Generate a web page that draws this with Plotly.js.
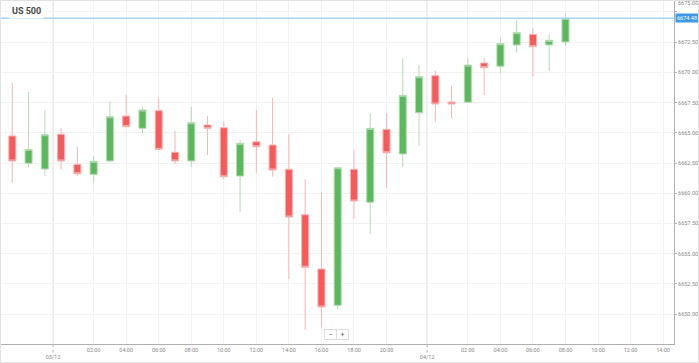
<!DOCTYPE html>
<html>
<head>
<meta charset="utf-8">
<script src="https://cdn.plot.ly/plotly-3.0.1.min.js"></script>
<style>
html,body{margin:0;padding:0;background:#fff;}
#wrap{width:697px;height:361px;border:1px solid #e2e2e2;}
#chart{width:697px;height:361px;}
</style>
</head>
<body>
<div id="wrap"><div id="chart"></div></div>
<script>
// Hourly candles, US 500 (02/12 20:00 -> 04/12 08:00, 23:00 break skipped)
const openP  = [6664.74,6662.48,6662.00,6664.88,6662.39,6661.56,6662.67,6666.39,6665.37,6666.83,
                6663.39,6662.67,6665.65,6665.42,6661.42,6664.26,6663.99,6661.98,6658.22,6653.73,
                6650.72,6661.98,6659.25,6665.29,6663.25,6666.66,6669.73,6667.55,6667.53,6670.78,
                6670.51,6672.27,6673.15,6672.27,6672.52];
const highP  = [6669.15,6668.38,6666.89,6665.37,6663.85,6663.10,6667.61,6668.15,6667.14,6667.91,
                6665.15,6667.14,6666.39,6665.92,6664.40,6666.89,6667.91,6664.90,6661.15,6660.12,
                6662.15,6663.63,6666.61,6666.61,6671.17,6670.61,6670.12,6668.87,6671.17,6671.17,
                6672.91,6674.34,6673.65,6673.15,6674.89];
const lowP   = [6660.87,6662.14,6661.42,6661.92,6661.42,6660.90,6662.60,6665.45,6664.96,6663.58,
                6662.39,6662.19,6663.16,6661.18,6658.42,6661.65,6661.37,6652.90,6648.68,6648.92,
                6650.39,6657.86,6656.62,6660.41,6662.19,6663.91,6665.92,6666.20,6667.48,6668.13,
                6669.93,6671.66,6669.64,6670.14,6672.19];
const closeP = [6662.67,6663.63,6664.84,6662.67,6661.61,6662.64,6666.33,6665.51,6666.89,6663.63,
                6662.67,6665.84,6665.37,6661.37,6664.13,6663.85,6661.92,6658.03,6653.87,6650.58,
                6662.11,6659.35,6665.37,6663.35,6668.10,6669.64,6667.38,6667.38,6670.61,6670.39,
                6672.38,6673.29,6672.13,6672.66,6674.48];
const slots = openP.map((_, i) => i);

// x-axis ticks (slot positions) and labels
const hourTickVals = [5,7,9,11,13,15,17,19,21,23, 28,30,32,34,36,38,40];
const hourTickText = ["02:00","04:00","06:00","08:00","10:00","12:00","14:00","16:00","18:00","20:00",
                      "02:00","04:00","06:00","08:00","10:00","12:00","14:00"];
const dayTickVals = [2.5, 25.5];
const dayTickText = ["03/12", "04/12"];

// y-axis ticks
const yTickVals = [6650,6652.5,6655,6657.5,6660,6662.5,6665,6667.5,6670,6672.5,6675];
const yTickText = ["6650.00","6652.50","6655.00","6657.50","6660.00","6662.50","6665.00","6667.50","6670.00","6672.50",""];
const topLabel = "6675.00";
const title = "US 500";

const lastClose = closeP[closeP.length - 1];

const trace = {
  type: 'candlestick',
  x: slots, open: openP, high: highP, low: lowP, close: closeP,
  increasing: {line: {color: '#b3dbb3', width: 1}, fillcolor: '#5cb85c'},
  decreasing: {line: {color: '#f8b4b4', width: 1}, fillcolor: '#f55b5b'},
  whiskerwidth: 0,
  hoverinfo: 'skip'
};

const shapes = [];
dayTickVals.forEach(v => {
  shapes.push({type:'line', xref:'x', yref:'paper', x0:v, x1:v, y0:0, y1:1,
               line:{color:'#e6e6e6', width:1.6}, layer:'below'});
  shapes.push({type:'line', xref:'x', yref:'paper', x0:v, x1:v, y0:0, y1:-0.025,
               line:{color:'#b5b5b5', width:1, dash:'dot'}});
});
shapes.push({type:'line', xref:'paper', yref:'y', x0:0, x1:1, y0:lastClose, y1:lastClose,
             line:{color:'#a9d3f3', width:1.5}});

const annotations = [
  {xref:'paper', yref:'paper', x:0.0125, y:0.971, xanchor:'left', yanchor:'middle',
   text:'<b>'+title+'</b>', showarrow:false, bgcolor:'#ffffff', borderpad:2,
   font:{size:9, color:'#444', family:'Roboto, sans-serif'}},
  {xref:'paper', yref:'y', x:1, y:lastClose, xanchor:'left', yanchor:'middle', xshift:1,
   text:lastClose.toFixed(2), showarrow:false, bgcolor:'#3d98e6', borderpad:1,
   font:{size:5.5, color:'#ffffff', family:'Roboto, sans-serif'}},
  {xref:'paper', yref:'paper', x:1, y:0.994, xanchor:'left', yanchor:'middle', xshift:2,
   text:topLabel, showarrow:false,
   font:{size:5.5, color:'#888', family:'Roboto, sans-serif'}},
  {xref:'paper', yref:'paper', x:0.490, y:0.029, xanchor:'center', yanchor:'middle',
   text:'−', showarrow:false, bgcolor:'#fff', bordercolor:'#dcdcdc', borderwidth:1, width:9, height:7,
   font:{size:7, color:'#555', family:'Roboto, sans-serif'}},
  {xref:'paper', yref:'paper', x:0.508, y:0.029, xanchor:'center', yanchor:'middle',
   text:'+', showarrow:false, bgcolor:'#fff', bordercolor:'#dcdcdc', borderwidth:1, width:9, height:7,
   font:{size:7, color:'#555', family:'Roboto, sans-serif'}}
];

const layout = {
  width: 697, height: 361,
  margin: {l:0, r:24, t:0, b:18, pad:0},
  paper_bgcolor:'#fff', plot_bgcolor:'#fff',
  showlegend:false,
  boxgap: 0.38,
  font:{family:'Roboto, sans-serif', size:5.5, color:'#888'},
  xaxis: {
    type:'linear', range:[-0.6945, 40.67], fixedrange:true,
    rangeslider:{visible:false},
    tickmode:'array',
    tickvals: hourTickVals.concat(dayTickVals),
    ticktext: hourTickText.concat(dayTickText.map(t => '<br>' + t)),
    showgrid:true, gridcolor:'#f2f2f2', gridwidth:1,
    zeroline:false, showline:true, linecolor:'#b0b0b0', linewidth:1,
    ticks:'', tickfont:{size:5.5, color:'#888'}
  },
  yaxis: {
    side:'right', range:[6647.52, 6675.91], fixedrange:true,
    tickmode:'array', tickvals:yTickVals, ticktext:yTickText,
    showgrid:true, gridcolor:'#f2f2f2', gridwidth:1,
    zeroline:false, showline:true, linecolor:'#b0b0b0', linewidth:1,
    ticks:'outside', ticklen:2, tickcolor:'#b0b0b0',
    tickfont:{size:5.5, color:'#888'}
  },
  shapes: shapes,
  annotations: annotations
};

Plotly.newPlot('chart', [trace], layout, {displayModeBar:false, staticPlot:true});
</script>
</body>
</html>
